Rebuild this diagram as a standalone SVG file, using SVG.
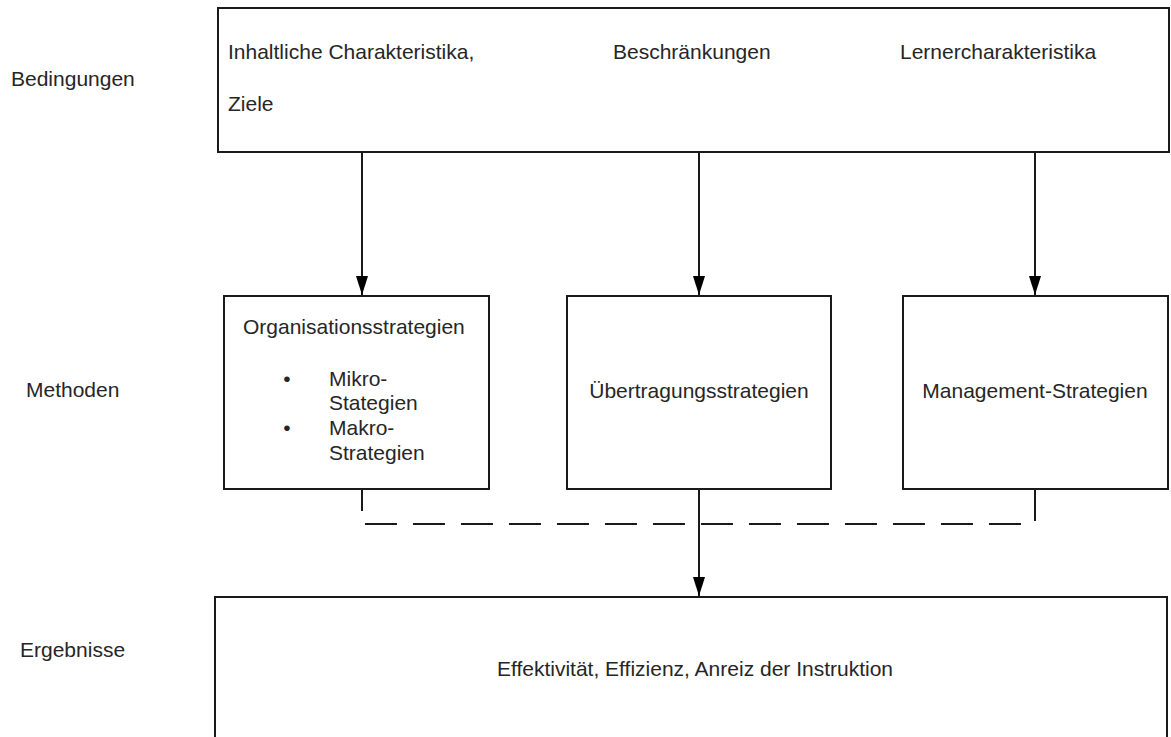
<svg xmlns="http://www.w3.org/2000/svg" width="1171" height="737" viewBox="0 0 1171 737">
  <style>
    .box { fill: #ffffff; stroke: #1a1a1a; stroke-width: 2; }
    .lbl { font-family: "Liberation Sans", Arial, sans-serif; font-size: 21px; fill: #262626; }
    .mid { text-anchor: middle; }
    .wire { fill: none; stroke: #1a1a1a; stroke-width: 2; }
    .dash { fill: none; stroke: #1a1a1a; stroke-width: 2; stroke-dasharray: 32 16; }
  </style>
  <defs>
    <marker id="arrow" markerUnits="userSpaceOnUse" markerWidth="20" markerHeight="14" viewBox="0 0 20 14" refX="19" refY="7" orient="auto">
      <path d="M0,1 L19,7 L0,13 Z" fill="#000000"/>
    </marker>
  </defs>
  <rect width="1171" height="737" fill="#ffffff"/>

  <!-- row labels -->
  <g id="row-labels">
    <text class="lbl" x="11" y="86">Bedingungen</text>
    <text class="lbl" x="26" y="397">Methoden</text>
    <text class="lbl" x="20" y="657">Ergebnisse</text>
  </g>

  <!-- conditions -->
  <g id="bedingungen">
    <rect class="box" x="218" y="8" width="951" height="144"/>
    <text class="lbl" x="228" y="59">Inhaltliche Charakteristika,</text>
    <text class="lbl" x="228" y="111">Ziele</text>
    <text class="lbl" x="613" y="59">Beschränkungen</text>
    <text class="lbl" x="900" y="59">Lernercharakteristika</text>
  </g>

  <!-- methods -->
  <g id="organisationsstrategien">
    <rect class="box" x="224" y="296" width="265" height="193"/>
    <text class="lbl" x="243" y="334">Organisationsstrategien</text>
    <text class="lbl mid" x="287" y="386">•</text>
    <text class="lbl" x="329" y="386">Mikro-</text>
    <text class="lbl" x="329" y="410">Stategien</text>
    <text class="lbl mid" x="287" y="435">•</text>
    <text class="lbl" x="329" y="435">Makro-</text>
    <text class="lbl" x="329" y="460">Strategien</text>
  </g>

  <g id="uebertragungsstrategien">
    <rect class="box" x="567" y="296" width="264" height="193"/>
    <text class="lbl mid" x="699" y="398">Übertragungsstrategien</text>
  </g>

  <g id="management-strategien">
    <rect class="box" x="903" y="296" width="265" height="193"/>
    <text class="lbl mid" x="1035" y="398">Management-Strategien</text>
  </g>

  <!-- results -->
  <g id="ergebnisse">
    <rect class="box" x="215" y="597" width="952" height="160"/>
    <text class="lbl mid" x="695" y="676">Effektivität, Effizienz, Anreiz der Instruktion</text>
  </g>

  <!-- connectors -->
  <g id="connectors">
    <line class="wire" x1="362" y1="152" x2="362" y2="295" marker-end="url(#arrow)"/>
    <line class="wire" x1="699" y1="152" x2="699" y2="295" marker-end="url(#arrow)"/>
    <line class="wire" x1="1035" y1="152" x2="1035" y2="295" marker-end="url(#arrow)"/>
    <line class="wire" x1="362" y1="489" x2="362" y2="511"/>
    <line class="wire" x1="1035" y1="489" x2="1035" y2="521"/>
    <line class="dash" x1="365" y1="524" x2="1023" y2="524"/>
    <line class="wire" x1="699" y1="489" x2="699" y2="596" marker-end="url(#arrow)"/>
  </g>
</svg>
